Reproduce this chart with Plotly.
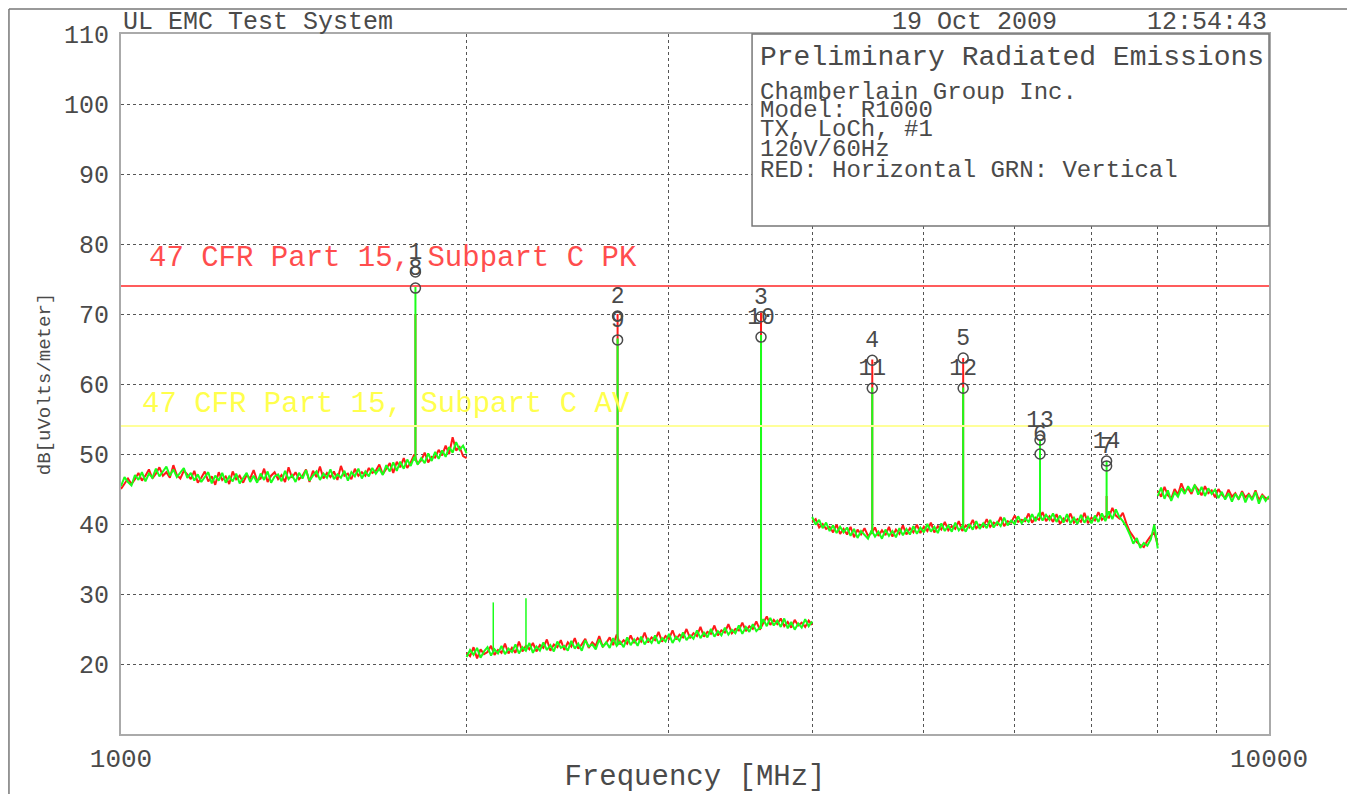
import numpy as np
import plotly.graph_objects as go

# ---------------- data ----------------
seg_edges_mhz = [1000, 2000, 4000, 8000, 10000]

green_a = [45.4, 46.7, 46.0, 45.5, 47.0, 46.3, 47.4, 46.1, 47.2, 46.6,
           47.9, 46.8, 47.5, 48.2, 46.9, 47.8, 46.7, 47.4, 48.0, 46.6,
           47.3, 46.2, 47.1, 46.0, 46.8, 47.4, 45.8, 46.9, 46.2, 47.3,
           45.9, 46.8, 46.1, 47.2, 45.8, 46.6, 47.3, 46.0, 46.9, 45.9,
           47.2, 46.3, 47.5, 45.9, 46.8, 47.1, 46.1, 47.6, 46.4, 47.0,
           46.0, 47.3, 46.5, 47.7, 46.2, 46.9, 47.5, 46.3, 47.2, 46.6,
           47.8, 46.4, 47.1, 46.6, 47.6, 46.2, 47.4, 46.8, 47.9, 46.5,
           47.5, 46.8, 48.0, 47.2, 47.9, 47.0, 48.4, 47.5, 48.8, 47.6,
           48.9, 47.9, 49.2, 48.3, 49.6, 48.5, 49.4, 48.7, 50.1, 49.0,
           50.3, 49.3, 50.5, 49.6, 51.0, 50.2, 51.7, 50.6, 51.2, 50.1]
red_a = [45.0, 45.8, 46.5, 45.7, 46.4, 47.3, 46.2, 46.9, 47.8, 46.5,
         47.2, 48.1, 46.9, 47.4, 46.6, 48.4, 47.0, 46.5, 47.6, 47.1,
         46.4, 47.6, 45.9, 46.6, 47.5, 46.1, 46.8, 45.6, 47.4, 46.3,
         46.8, 45.7, 47.5, 46.4, 46.9, 45.9, 47.0, 46.5, 47.7, 46.2,
         46.5, 47.9, 46.0, 46.9, 47.4, 46.4, 47.0, 46.0, 48.1, 46.6,
         47.4, 46.4, 46.9, 47.8, 46.0, 47.6, 46.7, 48.2, 46.5, 47.3,
         46.7, 47.5, 46.3, 48.3, 46.9, 47.2, 46.4, 47.9, 46.9, 47.4,
         46.9, 48.0, 47.3, 47.6, 48.5, 47.1, 47.9, 48.7, 47.3, 48.9,
         48.1, 49.4, 48.0, 48.8, 49.9, 48.6, 49.1, 50.2, 48.8, 49.6,
         49.5, 50.6, 49.8, 51.2, 50.0, 52.4, 50.5, 51.0, 49.7, 49.4]

green_b = [21.0, 22.0, 21.3, 22.3, 20.9, 21.8, 22.4, 21.2, 22.1, 21.5,
           22.6, 21.4, 22.2, 21.7, 22.8, 21.5, 22.4, 21.9, 23.0, 21.6,
           22.5, 21.9, 23.1, 22.0, 22.7, 21.8, 23.2, 22.3, 22.6, 21.9,
           23.3, 22.2, 22.9, 21.9, 23.4, 22.5, 22.8, 22.1, 23.5, 22.4,
           23.1, 22.3, 23.7, 22.6, 23.2, 22.4, 23.8, 22.7, 23.5, 22.6,
           23.9, 22.8, 23.6, 23.0, 24.1, 22.9, 23.7, 23.2, 24.3, 23.0,
           23.9, 23.3, 24.5, 23.4, 24.1, 23.6, 24.8, 23.7, 24.5, 23.8,
           25.0, 23.9, 24.7, 24.1, 25.2, 24.2, 24.9, 24.4, 25.5, 24.3,
           25.3, 24.6, 25.7, 24.7, 25.2, 26.4, 25.4, 26.6, 25.5, 26.2,
           25.3, 26.5, 25.1, 26.0, 24.9, 25.8, 25.2, 26.4, 25.4, 26.1]
red_b = [21.6, 21.1, 22.4, 20.8, 22.1, 21.4, 21.7, 22.6, 21.3, 22.0,
         21.6, 22.9, 21.5, 22.3, 21.6, 23.2, 21.8, 22.6, 22.1, 23.0,
         21.8, 22.7, 22.3, 23.5, 21.9, 22.8, 22.4, 23.4, 22.0, 23.1,
         22.5, 23.7, 22.2, 22.8, 23.6, 22.3, 23.1, 22.6, 24.0, 22.5,
         23.0, 23.8, 22.7, 24.2, 22.8, 23.4, 22.9, 24.1, 23.0, 23.7,
         23.2, 24.5, 23.1, 23.8, 23.4, 24.6, 23.2, 24.0, 23.6, 24.8,
         23.5, 24.2, 23.8, 25.0, 23.7, 24.4, 24.0, 25.3, 23.9, 24.6,
         24.3, 25.5, 24.1, 24.8, 24.5, 25.7, 24.4, 25.0, 24.8, 25.9,
         24.7, 25.4, 25.0, 26.1, 24.9, 25.8, 26.8, 25.6, 26.3, 25.7,
         26.5, 25.4, 26.0, 25.2, 26.3, 25.5, 25.9, 25.3, 26.2, 25.6]

green_c = [41.0, 39.9, 40.6, 39.4, 40.2, 39.0, 39.8, 38.7, 39.6, 38.8,
           39.5, 38.3, 39.3, 38.0, 39.0, 38.4, 37.9, 39.1, 38.2, 38.9,
           37.9, 39.2, 38.3, 39.0, 38.1, 39.4, 38.4, 39.3, 38.5, 39.7,
           38.6, 39.5, 38.8, 40.0, 38.9, 39.6, 38.7, 40.1, 39.0, 39.8,
           38.9, 40.2, 39.1, 39.7, 38.9, 40.0, 39.2, 40.4, 39.3, 40.1,
           39.4, 40.6, 39.5, 40.3, 39.7, 40.9, 39.8, 40.5, 40.0, 41.1,
           40.1, 40.8, 40.3, 41.4, 40.4, 41.6, 40.5, 41.3, 40.6, 41.5,
           40.3, 41.2, 40.2, 41.4, 40.1, 40.9, 40.0, 41.3, 40.2, 41.0,
           40.1, 41.2, 40.3, 41.5, 40.4, 41.8, 40.7, 42.1, 41.0, 40.4,
           39.6, 38.5, 37.2, 38.0, 36.6, 37.3, 36.9, 37.8, 39.9, 36.5]
red_c = [40.3, 40.7, 39.5, 40.0, 39.3, 39.6, 38.8, 39.9, 38.6, 39.3,
         38.5, 39.6, 38.1, 39.2, 38.5, 39.4, 38.3, 38.7, 39.5, 38.3,
         39.1, 38.4, 39.6, 38.2, 39.2, 38.6, 39.8, 38.5, 39.4, 38.8,
         39.9, 38.7, 39.6, 39.0, 40.2, 38.8, 39.7, 39.2, 40.3, 39.1,
         39.7, 39.3, 40.4, 39.0, 39.8, 39.5, 40.6, 39.4, 39.9, 39.6,
         40.7, 39.6, 40.2, 39.9, 41.0, 39.7, 40.4, 40.2, 41.2, 40.3,
         40.6, 40.4, 41.5, 40.2, 40.9, 40.6, 41.7, 40.4, 41.1, 40.3,
         41.4, 40.0, 40.8, 40.4, 41.5, 40.2, 40.7, 40.3, 41.6, 40.1,
         40.9, 40.5, 41.7, 40.6, 41.1, 40.9, 42.3, 41.2, 40.8, 41.6,
         40.1, 38.9, 38.2, 37.4, 37.0, 36.7, 37.6, 38.3, 38.8, 37.0]

green_d = [44.0, 45.2, 43.6, 44.8, 43.3, 44.5, 43.9, 45.1, 44.3, 45.4, 44.6, 45.6, 44.2, 45.3, 44.0, 45.1,
           44.3, 44.9, 43.7, 44.6, 43.5, 44.4, 43.2, 44.3, 43.6, 44.5, 43.1, 44.2, 43.4, 44.6, 42.9, 44.1,
           43.3, 44.0]
red_d = [44.7, 43.9, 45.3, 44.1, 43.6, 45.0, 44.2, 45.8, 44.6, 45.1, 44.3, 45.5, 44.9, 44.1, 45.4, 44.4,
         44.8, 43.8, 45.0, 44.2, 43.7, 44.9, 43.9, 44.4, 43.5, 44.7, 43.8, 44.3, 43.6, 44.8, 43.4, 44.2,
         43.7, 43.6]

# harmonic spikes (MHz) and their levels (dBuV/m)
spike_freq = [1805, 2707.5, 3610, 4512.5, 5415, 6317.5, 7220]
spike_base = [49.0, 22.8, 25.0, 38.6, 39.4, 41.0, 41.0]
green_spike_top = [74.0, 66.5, 67.0, 59.5, 59.5, 52.0, 49.0]
red_spike_top = [70.0, 70.0, 70.2, 63.5, 63.7, 43.0, 44.0]
small_spike_freq = [2110, 2253]
small_spike_base = [21.8, 22.0]
small_spike_top = [28.8, 29.4]

# numbered markers
marker_a_labels = ["1", "2", "3", "4", "5", "6", "7"]
marker_a_values = [76.0, 69.7, 69.6, 63.4, 63.7, 50.0, 48.3]
marker_b_labels = ["8", "9", "10", "11", "12", "13", "14"]
marker_b_values = [73.7, 66.3, 66.7, 59.4, 59.4, 52.0, 49.0]

limit_labels = ["47 CFR Part 15, Subpart C PK", "47 CFR Part 15, Subpart C AV"]
limit_values = [74, 54]
limit_line_colors = ["#ff5c5c", "#ffff99"]
limit_text_colors = ["#ff4d4d", "#ffff4d"]

y_ticks = [20, 30, 40, 50, 60, 70, 80, 90, 100, 110]
x_ticks = [1000, 10000]
x_minor_grid = [2000, 3000, 4000, 5000, 6000, 7000, 8000, 9000]

info_lines = ["Chamberlain Group Inc.", "Model: R1000", "TX, LoCh, #1", "120V/60Hz",
              "RED: Horizontal GRN: Vertical"]

# ---------------- helpers ----------------
def sweep(segments):
    xs, ys = [], []
    for k, vals in enumerate(segments):
        f = np.geomspace(seg_edges_mhz[k], seg_edges_mhz[k + 1], len(vals))
        xs += list(f) + [None]
        ys += list(vals) + [None]
    return xs, ys


def spikes(freqs, bases, tops):
    xs, ys = [], []
    for f, b, t in zip(freqs, bases, tops):
        xs += [f, f, None]
        ys += [b, t, None]
    return xs, ys


FONT = "Liberation Mono, DejaVu Sans Mono, monospace"
TXT = "#4a4a4a"
RED = "#ff1a1a"
GREEN = "#1aff1a"

fig = go.Figure()

rx, ry = sweep([red_a, red_b, red_c, red_d])
gx, gy = sweep([green_a, green_b, green_c, green_d])

# red (horizontal) underneath
fig.add_trace(go.Scatter(x=rx, y=ry, mode="lines", line=dict(color=RED, width=2), hoverinfo="skip"))
sx, sy = spikes(spike_freq, spike_base, red_spike_top)
fig.add_trace(go.Scatter(x=sx, y=sy, mode="lines", line=dict(color=RED, width=2), hoverinfo="skip"))
# green (vertical) on top
fig.add_trace(go.Scatter(x=gx, y=gy, mode="lines", line=dict(color=GREEN, width=2), hoverinfo="skip"))
sx, sy = spikes(spike_freq, spike_base, green_spike_top)
fig.add_trace(go.Scatter(x=sx, y=sy, mode="lines", line=dict(color=GREEN, width=2), hoverinfo="skip"))
sx, sy = spikes(small_spike_freq, small_spike_base, small_spike_top)
fig.add_trace(go.Scatter(x=sx, y=sy, mode="lines", line=dict(color=GREEN, width=1.5), hoverinfo="skip"))

# limit lines
for val, col in zip(limit_values, limit_line_colors):
    fig.add_trace(go.Scatter(x=[seg_edges_mhz[0], seg_edges_mhz[-1]], y=[val, val], mode="lines",
                             line=dict(color=col, width=2), hoverinfo="skip"))

# markers
for labels, vals in [(marker_b_labels, marker_b_values), (marker_a_labels, marker_a_values)]:
    fig.add_trace(go.Scatter(
        x=spike_freq, y=vals, mode="markers+text", text=labels, textposition="top center",
        textfont=dict(family=FONT, size=23, color=TXT),
        marker=dict(symbol="circle-open", size=10, color=TXT, line=dict(width=1.5, color=TXT)),
        hoverinfo="skip"))

annotations = []
# limit labels
for lab, col, px_left, yv in [(limit_labels[0], limit_text_colors[0], 0.0226, 77.9),
                             (limit_labels[1], limit_text_colors[1], 0.0166, 57.1)]:
    annotations.append(dict(text=lab, xref="paper", yref="y", x=px_left, y=yv, xanchor="left",
                            yanchor="middle", showarrow=False,
                            font=dict(family=FONT, size=29, color=col)))
# header
HDR_Y = 1.0171
annotations.append(dict(text="UL EMC Test System", xref="paper", yref="paper", x=0.0, y=HDR_Y,
                        xanchor="left", yanchor="middle", showarrow=False,
                        font=dict(family=FONT, size=25, color=TXT)))
annotations.append(dict(text="19 Oct 2009", xref="paper", yref="paper", x=0.6699, y=HDR_Y,
                        xanchor="left", yanchor="middle", showarrow=False,
                        font=dict(family=FONT, size=25, color=TXT)))
annotations.append(dict(text="12:54:43", xref="paper", yref="paper", x=1.0, y=HDR_Y,
                        xanchor="right", yanchor="middle", showarrow=False,
                        font=dict(family=FONT, size=25, color=TXT)))
# info box
annotations.append(dict(text="Preliminary Radiated Emissions", xref="paper", yref="paper",
                        x=0.5549, y=0.9671, xanchor="left", yanchor="middle", showarrow=False,
                        font=dict(family=FONT, size=28, color=TXT)))
for line, yp in zip(info_lines, [0.9171, 0.8900, 0.8629, 0.8343, 0.8057]):
    annotations.append(dict(text=line, xref="paper", yref="paper", x=0.5549, y=yp,
                            xanchor="left", yanchor="middle", showarrow=False,
                            font=dict(family=FONT, size=24, color=TXT)))

shapes = [
    dict(type="rect", xref="paper", yref="paper", x0=0.5497, x1=1.0, y0=0.7257, y1=1.0,
         fillcolor="white", line=dict(color="#777", width=1.5), layer="above"),
    # outer frame of the scanned sheet (left and top edges)
    dict(type="line", xref="paper", yref="paper", x0=-0.0976, x1=-0.0976, y0=-0.09, y1=1.0357,
         line=dict(color="#777", width=1.5)),
    dict(type="line", xref="paper", yref="paper", x0=-0.0976, x1=1.08, y0=1.0357, y1=1.0357,
         line=dict(color="#777", width=1.5)),
]

# the page body adds an 8px offset, so the figure is 8px smaller and margins shifted
fig.update_layout(
    width=1347, height=786,
    margin=dict(l=113, r=86, t=26, b=60),
    paper_bgcolor="white", plot_bgcolor="white",
    showlegend=False,
    annotations=annotations,
    shapes=shapes,
    xaxis=dict(
        type="log", range=[3, 4], tickvals=x_ticks, ticktext=[str(v) for v in x_ticks],
        showgrid=False, ticks="", showline=True, mirror=True, linecolor="#aaa", linewidth=2,
        zeroline=False, automargin=False, ticklabelstandoff=0,
        tickfont=dict(family=FONT, size=26, color=TXT),
        minor=dict(tickvals=x_minor_grid, showgrid=True, gridcolor="#555", griddash="dot",
                   gridwidth=1, ticks=""),
        title=dict(text="Frequency [MHz]", standoff=4, font=dict(family=FONT, size=29, color=TXT)),
    ),
    yaxis=dict(
        range=[10, 110], tickvals=y_ticks, showgrid=True, gridcolor="#555", griddash="dot",
        gridwidth=1, ticks="", showline=True, mirror=True, linecolor="#aaa", linewidth=2,
        zeroline=False, automargin=False, ticklabelstandoff=5,
        tickfont=dict(family=FONT, size=25, color=TXT),
        title=dict(text="dB[uVolts/meter]", standoff=8, font=dict(family=FONT, size=19, color=TXT)),
    ),
)

fig.write_html("out.html")
